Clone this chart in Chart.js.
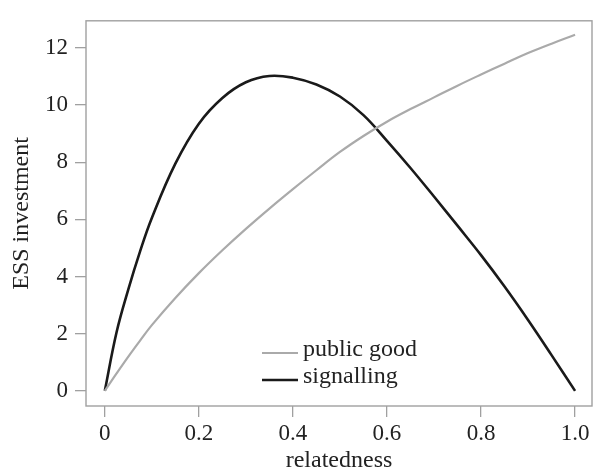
<!DOCTYPE html>
<html>
<head>
<meta charset="utf-8">
<script src="https://cdn.jsdelivr.net/npm/chart.js@4"></script>
<style>
  html, body { margin: 0; padding: 0; background: #fff; }
  #wrap { width: 593px; height: 473px; }
</style>
</head>
<body>
<div id="wrap"><canvas id="essChart" width="593" height="473"></canvas></div>
<script>
// relatedness values (x)
const relatedness = [0, 0.025, 0.05, 0.075, 0.1, 0.15, 0.2, 0.25, 0.3, 0.35, 0.4, 0.45,
    0.5, 0.55, 0.6, 0.65, 0.7, 0.75, 0.8, 0.85, 0.9, 0.95, 1.0];

// ESS investment
const publicGood = [0, 0.61, 1.2, 1.76, 2.3, 3.25, 4.12, 4.92, 5.67, 6.38, 7.06, 7.72,
    8.36, 8.92, 9.42, 9.86, 10.27, 10.68, 11.07, 11.45, 11.82, 12.15, 12.46];
const signalling = [0, 2.05, 3.55, 4.88, 6.05, 7.95, 9.35, 10.25, 10.8, 11.02, 10.96, 10.72,
    10.3, 9.65, 8.75, 7.8, 6.8, 5.78, 4.75, 3.65, 2.48, 1.25, 0];

const xTicks = [0, 0.2, 0.4, 0.6, 0.8, 1.0];
const yTicks = [0, 2, 4, 6, 8, 10, 12];

const seriesNames = ['public good', 'signalling'];
const seriesColors = ['#aaaaaa', '#1a1a1a'];

const FONT = '"Liberation Serif", "DejaVu Serif", serif';
const AXIS_GREY = '#a0a0a0';

const toPoints = vals => relatedness.map((r, i) => ({ x: r, y: vals[i] }));

// full box round the plot area
const boxPlugin = {
    id: 'box',
    beforeDatasetsDraw(chart) {
        const { ctx, chartArea: a } = chart;
        ctx.save();
        ctx.strokeStyle = AXIS_GREY;
        ctx.lineWidth = 1.4;
        ctx.strokeRect(a.left, a.top, a.right - a.left, a.bottom - a.top);
        ctx.restore();
    }
};

// legend drawn inside the plot, lower middle
const legendPlugin = {
    id: 'innerLegend',
    afterDatasetsDraw(chart) {
        const { ctx } = chart;
        const x0 = 262, x1 = 298, y0 = 353, dy = 27;
        ctx.save();
        ctx.font = '24px ' + FONT;
        ctx.textBaseline = 'middle';
        chart.data.datasets.forEach((ds, i) => {
            const y = y0 + i * dy;
            ctx.strokeStyle = ds.borderColor;
            ctx.lineWidth = ds.borderWidth;
            ctx.beginPath();
            ctx.moveTo(x0, y);
            ctx.lineTo(x1, y);
            ctx.stroke();
            ctx.fillStyle = '#222';
            ctx.fillText(ds.label, x1 + 5, y - 3);
        });
        ctx.restore();
    }
};

const ctx = document.getElementById('essChart').getContext('2d');
new Chart(ctx, {
    type: 'line',
    data: {
        datasets: [
            {
                label: seriesNames[0],
                data: toPoints(publicGood),
                borderColor: seriesColors[0],
                borderWidth: 2.2,
                pointRadius: 0,
                tension: 0.4
            },
            {
                label: seriesNames[1],
                data: toPoints(signalling),
                borderColor: seriesColors[1],
                borderWidth: 2.6,
                pointRadius: 0,
                tension: 0.4
            }
        ]
    },
    options: {
        responsive: false,
        animation: false,
        layout: { padding: { left: 0, top: 14, right: 1, bottom: 0 } },
        plugins: {
            legend: { display: false },
            tooltip: { enabled: false }
        },
        scales: {
            x: {
                type: 'linear',
                min: -0.04,
                max: 1.036,
                afterFit: s => { s.height = 67; },
                afterBuildTicks: s => { s.ticks = xTicks.map(v => ({ value: v })); },
                grid: { drawOnChartArea: false, drawTicks: true, tickLength: 11, color: AXIS_GREY, lineWidth: 1.3 },
                border: { display: false },
                ticks: {
                    color: '#222',
                    padding: 3,
                    maxRotation: 0,
                    font: { family: FONT, size: 23 },
                    callback: v => (v === 0 ? '0' : v.toFixed(1))
                },
                title: {
                    display: true,
                    text: 'relatedness',
                    color: '#222',
                    font: { family: FONT, size: 24, lineHeight: 1 },
                    padding: { top: 0, bottom: 0 }
                }
            },
            y: {
                min: -0.53,
                max: 12.95,
                afterFit: s => { s.width = 86; },
                afterBuildTicks: s => { s.ticks = yTicks.map(v => ({ value: v })); },
                grid: { drawOnChartArea: false, drawTicks: true, tickLength: 11, color: AXIS_GREY, lineWidth: 1.3 },
                border: { display: false },
                ticks: {
                    color: '#222',
                    padding: 7,
                    font: { family: FONT, size: 23 }
                },
                title: {
                    display: true,
                    text: 'ESS investment',
                    color: '#222',
                    font: { family: FONT, size: 24, lineHeight: 1 },
                    padding: { top: 10, bottom: 0 }
                }
            }
        }
    },
    plugins: [boxPlugin, legendPlugin]
});
</script>
</body>
</html>
